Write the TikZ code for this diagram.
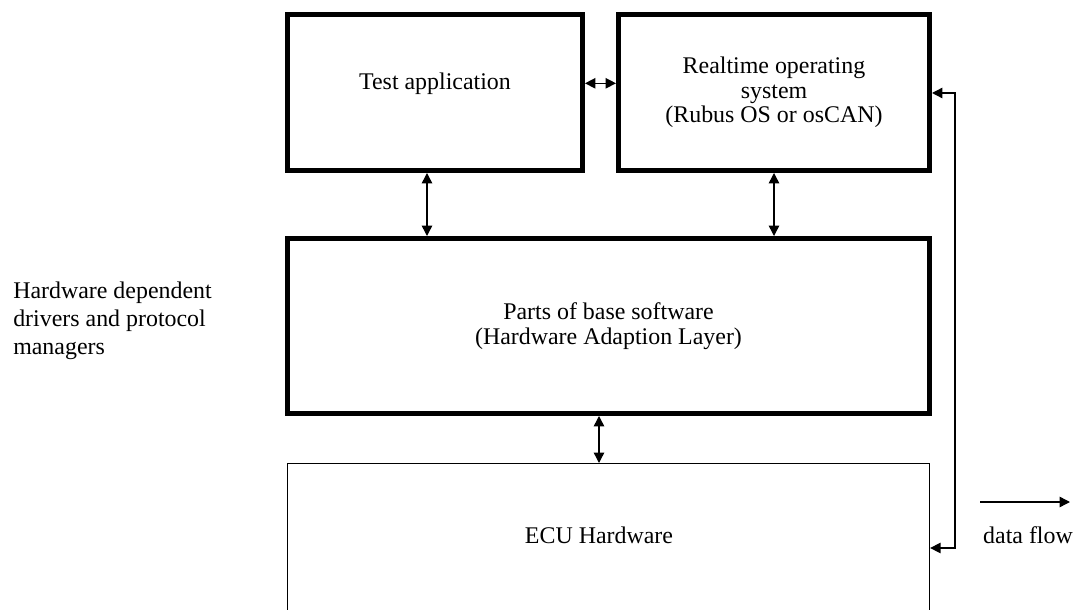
\documentclass[tikz,border=0pt]{standalone}
\usepackage{fontspec}
\setmainfont{Liberation Serif}
\usetikzlibrary{arrows.meta}

\tikzset{
  layerbox/.style={rectangle, draw, line width=3.5pt, align=center, inner sep=0pt},
  hwbox/.style={rectangle, draw, line width=0.8pt, inner sep=0pt},
  flow/.style={line width=1pt}
}

\begin{document}
\begin{tikzpicture}[x=0.025cm, y=-0.025cm,
every node/.style={font=\fontsize{17}{17.5}\selectfont},
>={Triangle[length=2.6mm, width=2.6mm]}]

  \useasboundingbox (0,0) rectangle (1073,610);
  \clip (0,0) rectangle (1073,610);

  % Software layers
  \node[layerbox, minimum width=7.375cm, minimum height=3.9cm,
    label={[name=apptxt, yshift=0.23cm]center:Test application}] (testapp) at (435,92.5) {};
  \node[layerbox, minimum width=7.775cm, minimum height=3.9cm] (rtos) at (774,92.5) {Realtime operating\\system\\(Rubus OS or osCAN)};
  \node[layerbox, minimum width=16.05cm, minimum height=4.375cm] (base) at (608.5,326) {Parts of base software\\(Hardware Adaption Layer)};

  % Hardware
  \node[hwbox, anchor=north, minimum width=16.05cm, minimum height=5cm] (ecu) at (608.5,463) {};
  \node (ecutxt) at (599,535) {ECU Hardware};

  % Side notes
  \node[align=left, anchor=west, inner sep=0pt, font=\fontsize{17}{20}\selectfont] (hwdep) at (13,321) {Hardware dependent\\drivers and protocol\\managers};
  \node (dflow) at (1028,535) {data flow};
  \coordinate (dfa) at (980,502);
  \coordinate (dfb) at (1070,502);
  \coordinate (fbbot) at (955,548);

  \draw[<->, flow] (testapp.east |- apptxt) -- (rtos.west |- apptxt);
  \draw[<->, flow] (testapp.south -| 427,0) -- (base.north -| 427,0);
  \draw[<->, flow] (rtos.south) -- (rtos.south |- base.north);
  \draw[<->, flow] (base.south -| ecutxt) -- (ecu.north -| ecutxt);
  \draw[<->, flow] (rtos.east |- 0,93) -| (fbbot) -- (ecu.east |- fbbot);
  \draw[->, flow] (dfa) -- (dfb);

\end{tikzpicture}
\end{document}
